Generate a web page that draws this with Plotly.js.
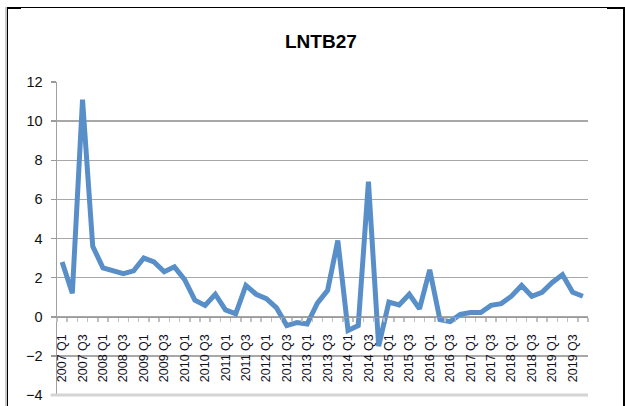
<!DOCTYPE html>
<html>
<head>
<meta charset="utf-8">
<script src="https://cdn.plot.ly/plotly-3.0.1.min.js"></script>
<style>
  html, body { margin: 0; padding: 0; background: #ffffff; }
  #wrap { position: relative; width: 625px; height: 406px; overflow: hidden; }
  #chart { position: absolute; left: 0; top: 0; width: 625px; height: 406px; }
  #frame { position: absolute; left: 7px; top: 7px; width: 615px; height: 410px;
           border-top: 1px solid #000; border-left: 1px solid #000; border-right: 2px solid #000;
           box-shadow: -2px 0 0 #c8c8c8; pointer-events: none; }
  .cap { position: absolute; top: 7px; height: 2px; background: #000; pointer-events: none; }
</style>
</head>
<body>
<div id="wrap">
  <div id="chart"></div>
  <div id="frame"></div>
  <div class="cap" style="left:7px;width:14px;"></div>
  <div class="cap" style="left:607px;width:18px;"></div>
</div>
<script>
// ---- data ----
const years = [2007, 2008, 2009, 2010, 2011, 2012, 2013, 2014, 2015, 2016, 2017, 2018, 2019];
const quarters = ["Q1", "Q2", "Q3", "Q4"];
const categories = [];
years.forEach(y => quarters.forEach(q => categories.push(y + " " + q)));

const values = [
  2.8, 1.2, 11.1, 3.6,
  2.5, 2.35, 2.2, 2.35,
  3.0, 2.8, 2.3, 2.55,
  1.9, 0.85, 0.58, 1.15,
  0.35, 0.15, 1.6, 1.15,
  0.92, 0.45, -0.45, -0.3,
  -0.37, 0.7, 1.35, 3.9,
  -0.7, -0.45, 6.9, -1.5,
  0.75, 0.6, 1.15, 0.4,
  2.4, -0.15, -0.25, 0.12,
  0.22, 0.22, 0.58, 0.67,
  1.05, 1.6, 1.05, 1.25,
  1.75, 2.15, 1.25, 1.05
];

// label every second quarter
const tickLabels = categories.filter((c, i) => i % 2 === 0);

const chartTitle = "LNTB27";
const yTicks = [-4, -2, 0, 2, 4, 6, 8, 10, 12];

const lineColor = "rgb(88,143,200)";
const zeroPos = (0 - (-4)) / (12 - (-4));

const traces = [
  {
    type: "scatter", mode: "lines",
    x: categories, y: values,
    line: { color: lineColor, width: 5, shape: "linear" },
    hoverinfo: "x+y", showlegend: false,
    xaxis: "x", yaxis: "y"
  },
  {
    // carrier for the minor boundary tick axis
    type: "scatter", mode: "lines",
    x: categories, y: values,
    line: { color: "rgba(0,0,0,0)", width: 0 },
    hoverinfo: "skip", showlegend: false,
    xaxis: "x2", yaxis: "y"
  }
];

const layout = {
  width: 625, height: 406,
  paper_bgcolor: "rgba(0,0,0,0)", plot_bgcolor: "rgba(0,0,0,0)",
  margin: { l: 57, r: 37, t: 82, b: 11, pad: 0 },
  showlegend: false,
  title: {
    text: "<b>" + chartTitle + "</b>",
    x: 0.497, xref: "paper", xanchor: "center",
    y: 1 - 41 / 406, yref: "container", yanchor: "middle",
    font: { family: "Liberation Sans, Arial, sans-serif", size: 19, color: "#000" }
  },
  xaxis: {
    type: "category",
    categoryorder: "array", categoryarray: categories,
    range: [-0.5, categories.length - 0.5],
    anchor: "free", position: zeroPos,
    tickmode: "array", tickvals: tickLabels, ticktext: tickLabels,
    tickangle: -90,
    ticks: "outside", ticklen: 11, tickcolor: "rgba(0,0,0,0)",
    tickfont: { family: "Liberation Sans, Arial, sans-serif", size: 12.5, color: "#10101c" },
    showgrid: false, zeroline: false,
    showline: true, linecolor: "#9a9a9a", linewidth: 1.5,
    fixedrange: true
  },
  xaxis2: {
    type: "category",
    categoryorder: "array", categoryarray: categories,
    range: [-0.5, categories.length - 0.5],
    overlaying: "x", anchor: "free", position: zeroPos,
    dtick: 1, tickson: "boundaries",
    ticks: "outside", ticklen: 4, tickwidth: 1.5, tickcolor: "#c0c0c0",
    showticklabels: false, showgrid: false, zeroline: false,
    showline: false,
    fixedrange: true
  },
  yaxis: {
    range: [-4, 12],
    tickmode: "array", tickvals: yTicks,
    ticks: "outside", ticklen: 5, tickwidth: 1.5, tickcolor: "#9a9a9a",
    ticklabelstandoff: 5,
    tickfont: { family: "Liberation Sans, Arial, sans-serif", size: 14.5, color: "#101010" },
    showgrid: true, gridcolor: "#a8a8a8", gridwidth: 1.5,
    zeroline: false,
    showline: true, linecolor: "#a0a0a0", linewidth: 1.5,
    fixedrange: true
  },
  shapes: [
    { type: "line", xref: "paper", yref: "y domain", x0: -0.012, x1: 1, y0: 0, y1: 0,
      line: { color: "#d4d4d4", width: 3 }, layer: "above" }
  ]
};

Plotly.newPlot("chart", traces, layout, { displayModeBar: false, staticPlot: true });
</script>
</body>
</html>
